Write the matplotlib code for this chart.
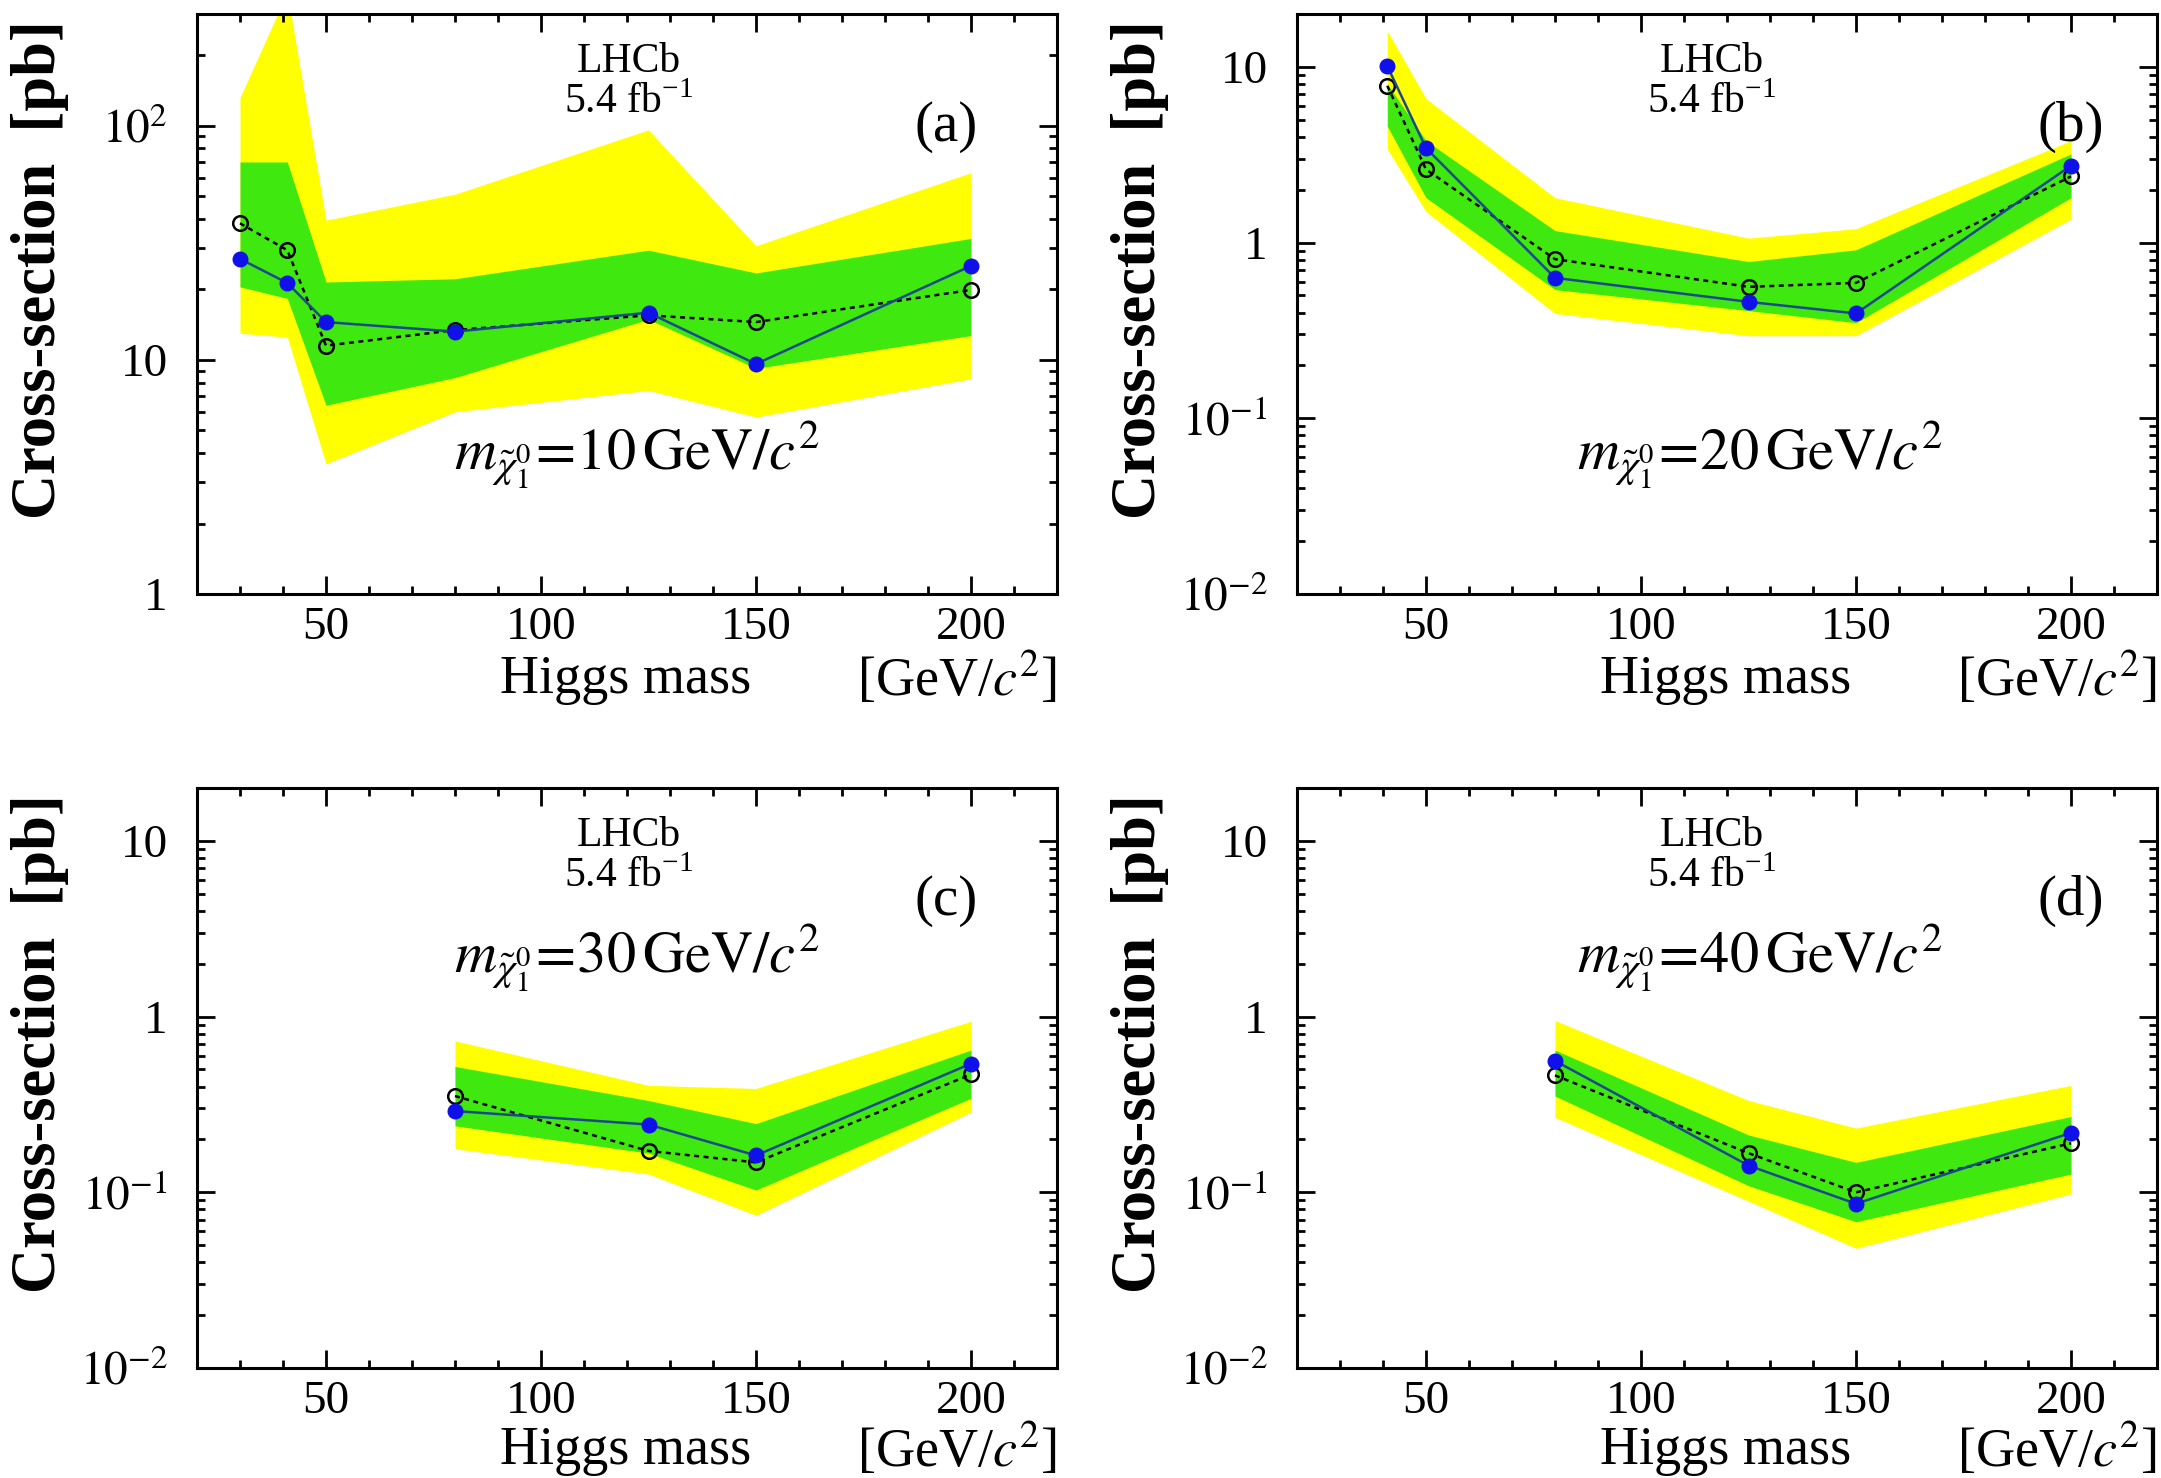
import matplotlib
matplotlib.use('Agg')
import matplotlib.pyplot as plt
from matplotlib.ticker import FixedLocator, LogLocator, MultipleLocator, NullFormatter

plt.rcParams['font.family'] = 'Liberation Serif'
plt.rcParams['mathtext.fontset'] = 'stix'

# (a) m_chi = 10 GeV
mh_a = [30, 41, 50, 80, 125, 150, 200]
obs_a = [27.0, 21.3, 14.5, 13.2, 15.9, 9.6, 25.2]
exp_a = [38.3, 29.4, 11.5, 13.4, 15.5, 14.5, 19.9]
g_hi_a = [70, 70, 21.5, 22.2, 29.4, 23.5, 33]
g_lo_a = [20.5, 18.3, 6.4, 8.4, 14.9, 9.2, 12.7]
y_hi_a = [132, 370, 39.5, 51, 96, 30.7, 63]
y_lo_a = [13.0, 12.5, 3.6, 6.0, 7.4, 5.7, 8.3]

# (b) m_chi = 20 GeV
mh_b = [41, 50, 80, 125, 150, 200]
obs_b = [10.1, 3.45, 0.63, 0.46, 0.395, 2.74]
exp_b = [7.8, 2.61, 0.805, 0.56, 0.59, 2.38]
g_hi_b = [8.0, 3.8, 1.17, 0.78, 0.91, 3.2]
g_lo_b = [4.6, 1.8, 0.54, 0.41, 0.35, 1.8]
y_hi_b = [16, 6.6, 1.8, 1.06, 1.2, 3.8]
y_lo_b = [3.4, 1.5, 0.395, 0.295, 0.295, 1.36]

# (c) m_chi = 30 GeV
mh_c = [80, 125, 150, 200]
obs_c = [0.29, 0.243, 0.162, 0.54]
exp_c = [0.353, 0.172, 0.148, 0.469]
g_hi_c = [0.52, 0.333, 0.246, 0.645]
g_lo_c = [0.239, 0.167, 0.103, 0.343]
y_hi_c = [0.727, 0.406, 0.39, 0.94]
y_lo_c = [0.177, 0.127, 0.074, 0.286]

# (d) m_chi = 40 GeV
mh_d = [80, 125, 150, 200]
obs_d = [0.56, 0.142, 0.086, 0.218]
exp_d = [0.463, 0.167, 0.1, 0.19]
g_hi_d = [0.645, 0.212, 0.148, 0.27]
g_lo_d = [0.353, 0.109, 0.068, 0.127]
y_hi_d = [0.95, 0.333, 0.232, 0.406]
y_lo_d = [0.267, 0.089, 0.048, 0.098]

mchi = [10, 20, 30, 40]
tags = ['(a)', '(b)', '(c)', '(d)']

fig = plt.figure(figsize=(21.61, 14.78), dpi=100)
w, h = 860 / 2161, 580 / 1478
x0 = [197 / 2161, 1297 / 2161]
y0 = [(1478 - 594) / 1478, (1478 - 1368) / 1478]

panels = [
    (mh_a, obs_a, exp_a, g_hi_a, g_lo_a, y_hi_a, y_lo_a),
    (mh_b, obs_b, exp_b, g_hi_b, g_lo_b, y_hi_b, y_lo_b),
    (mh_c, obs_c, exp_c, g_hi_c, g_lo_c, y_hi_c, y_lo_c),
    (mh_d, obs_d, exp_d, g_hi_d, g_lo_d, y_hi_d, y_lo_d),
]
lhcb_x = [0.502, 0.482, 0.502, 0.482]
tag_x = [0.871, 0.90, 0.871, 0.90]
mass_x = [0.512, 0.538, 0.512, 0.538]
mass_y = [0.24, 0.24, 0.707, 0.707]
xlab_y = [-0.147, -0.147, -0.143, -0.143]

for i, (mh, obs, exp, ghi, glo, yhi, ylo) in enumerate(panels):
    ax = fig.add_axes([x0[i % 2], y0[i // 2], w, h])
    ax.set_yscale('log')
    ax.fill_between(mh, ylo, yhi, color='#ffff00', lw=0)
    ax.fill_between(mh, glo, ghi, color='#3fe80f', lw=0)
    ax.plot(mh, exp, color='black', ls=(0, (2, 1.8)), lw=1.8, marker='o', ms=10.5,
            mfc='none', mec='black', mew=1.8)
    ax.plot(mh, obs, color='#1a4a8c', lw=1.8, marker='o', ms=10.5,
            mfc='#1010e8', mec='#1010e8')

    ax.set_xlim(20, 220)
    if i == 0:
        ax.set_ylim(1, 300)
        majors = [1, 10, 100]
        labels = ['1', '10', r'$10^{2}$']
    else:
        ax.set_ylim(0.01, 20)
        majors = [0.01, 0.1, 1, 10]
        labels = [r'$10^{-2}$', r'$10^{-1}$', '1', '10']
    ax.yaxis.set_major_locator(FixedLocator(majors))
    ax.set_yticklabels(labels)
    ax.yaxis.set_minor_locator(LogLocator(base=10, subs=range(2, 10)))
    ax.yaxis.set_minor_formatter(NullFormatter())
    ax.xaxis.set_major_locator(FixedLocator([50, 100, 150, 200]))
    ax.xaxis.set_minor_locator(MultipleLocator(10))

    ax.tick_params(which='both', direction='in', top=True, right=True, width=2)
    ax.tick_params(which='major', length=13)
    ax.tick_params(which='minor', length=6)
    ax.tick_params(axis='x', labelsize=34, pad=9)
    ax.tick_params(axis='y', labelsize=34, pad=21)
    for s in ax.spines.values():
        s.set_linewidth(2.2)

    ax.set_ylabel('Cross-section  [pb]', fontsize=45, fontweight='bold', loc='top')
    ax.yaxis.set_label_coords(-0.149, 0.99)
    ax.text(0.498, xlab_y[i], 'Higgs mass', transform=ax.transAxes, ha='center',
            va='center', fontsize=39)
    ax.text(1.0, xlab_y[i], r'[GeV/$c^2$]', transform=ax.transAxes, ha='right',
            va='center', fontsize=39)

    ax.text(lhcb_x[i], 0.917, 'LHCb', transform=ax.transAxes, ha='center',
            va='center', fontsize=30)
    ax.text(lhcb_x[i], 0.847, r'5.4 fb$^{\mathregular{-1}}$', transform=ax.transAxes,
            ha='center', va='center', fontsize=30)
    ax.text(tag_x[i], 0.805, tags[i], transform=ax.transAxes, ha='center',
            va='center', fontsize=41)
    ax.text(mass_x[i], mass_y[i],
            r'$m_{\tilde{\chi}_1^0}\!=\!%d\,\mathrm{GeV}/c^2$' % mchi[i],
            transform=ax.transAxes, ha='center', va='center', fontsize=42)

fig.savefig('out.png', dpi=100)
